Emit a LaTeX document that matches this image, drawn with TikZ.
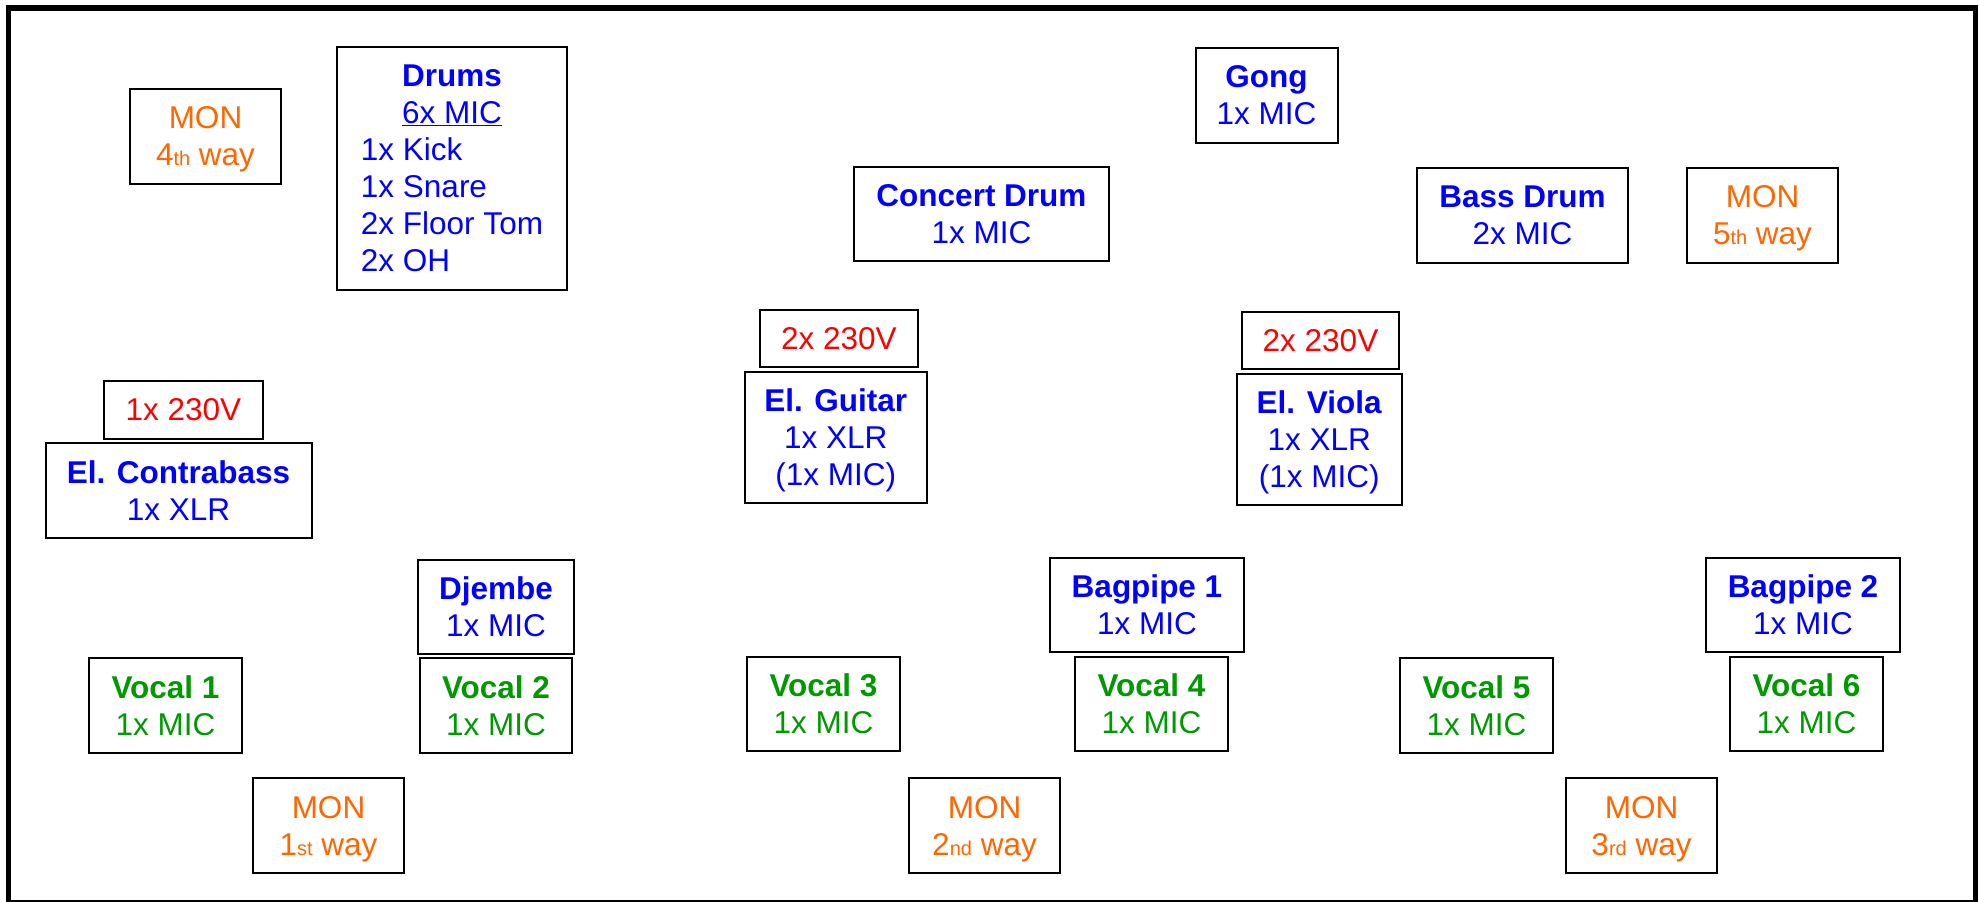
\documentclass[tikz,border=0pt]{standalone}
\usepackage{fontspec}
\setmainfont{Liberation Sans}
\definecolor{instblue}{RGB}{0,0,255}
\definecolor{vocgreen}{RGB}{0,153,0}
\definecolor{monorange}{RGB}{255,102,0}
\definecolor{pwrred}{RGB}{255,0,0}
\newcommand{\ordsfx}[1]{{\fontsize{20}{20}\selectfont #1}}
\begin{document}
\begin{tikzpicture}[x=1pt,y=-1pt,
  box/.style={draw=black, line width=2pt, inner sep=0pt, align=center,
              font=\fontsize{31.5}{37}\selectfont},
  inst/.style={box, text=instblue},
  voc/.style={box, text=vocgreen},
  mon/.style={box, text=monorange, minimum width=151pt, minimum height=95pt},
  pwr/.style={box, text=pwrred},
  frame/.style={draw=black, line width=5.5pt}]
\useasboundingbox (0,0) rectangle (1979,902);
\draw[frame] (8.5,8) rectangle (1975.5,903);

% monitors
\node[mon] (mon4) at (205.5,136.5) {MON\\\smash{4\ordsfx{th} way}};
\node[mon] (mon5) at (1762.5,215.5) {MON\\\smash{5\ordsfx{th} way}};
\node[mon] (mon1) at (328.5,825.5) {MON\\\smash{1\ordsfx{st} way}};
\node[mon] (mon2) at (984.5,825.5) {MON\\\smash{2\ordsfx{nd} way}};
\node[mon] (mon3) at (1641.5,825.5) {MON\\\smash{3\ordsfx{rd} way}};

% instruments
\node[inst, minimum width=230pt, minimum height=243pt] (drums) at (452,168.5)
  {\textbf{Drums}\\\underline{6x MIC}\\
   \rlap{1x Kick}\phantom{2x Floor Tom}\\
   \rlap{1x Snare}\phantom{2x Floor Tom}\\
   2x Floor Tom\\
   \rlap{2x OH}\phantom{2x Floor Tom}};
\node[inst, minimum width=142pt, minimum height=95pt] (gong) at (1266.5,95.5) {\textbf{Gong}\\1x MIC};
\node[inst, minimum width=255pt, minimum height=94pt] (concert) at (981.5,214) {\textbf{Concert Drum}\\1x MIC};
\node[inst, minimum width=211pt, minimum height=95pt] (bassdrum) at (1522.5,215.5) {\textbf{Bass Drum}\\2x MIC};

\node[pwr, minimum width=159pt, minimum height=58pt] (pwrA) at (183.5,410) {1x 230V};
\node[inst, minimum width=266pt, minimum height=95pt] (contrabass) at (178.5,490.5) {\textbf{El. Contrabass}\\1x XLR};

\node[pwr, minimum width=158pt, minimum height=57pt] (pwrB) at (839,338.5) {2x 230V};
\node[inst, minimum width=182.5pt, minimum height=131pt] (guitar) at (835.75,437.5) {\textbf{El. Guitar}\\1x XLR\\\smash{(1x MIC)}};

\node[pwr, minimum width=157pt, minimum height=57pt] (pwrC) at (1320.5,340.5) {2x 230V};
\node[inst, minimum width=164.5pt, minimum height=131pt] (viola) at (1319.25,439.5) {\textbf{El. Viola}\\1x XLR\\\smash{(1x MIC)}};

\node[inst, minimum width=156pt, minimum height=94pt] (djembe) at (496,607) {\textbf{Djembe}\\1x MIC};
\node[inst, minimum width=194pt, minimum height=94pt] (bagpipeA) at (1147,605) {\textbf{Bagpipe 1}\\1x MIC};
\node[inst, minimum width=194pt, minimum height=94pt] (bagpipeB) at (1803,605) {\textbf{Bagpipe 2}\\1x MIC};

% vocals
\node[voc, minimum width=153pt, minimum height=95pt] (vocalA) at (165.5,705.5) {\textbf{Vocal 1}\\1x MIC};
\node[voc, minimum width=152pt, minimum height=95pt] (vocalB) at (496,705.5) {\textbf{Vocal 2}\\1x MIC};
\node[voc, minimum width=153pt, minimum height=94pt] (vocalC) at (823.5,704) {\textbf{Vocal 3}\\1x MIC};
\node[voc, minimum width=153pt, minimum height=94pt] (vocalD) at (1151.5,704) {\textbf{Vocal 4}\\1x MIC};
\node[voc, minimum width=153pt, minimum height=95pt] (vocalE) at (1476.5,705.5) {\textbf{Vocal 5}\\1x MIC};
\node[voc, minimum width=153pt, minimum height=94pt] (vocalF) at (1806.5,704) {\textbf{Vocal 6}\\1x MIC};
\end{tikzpicture}
\end{document}
